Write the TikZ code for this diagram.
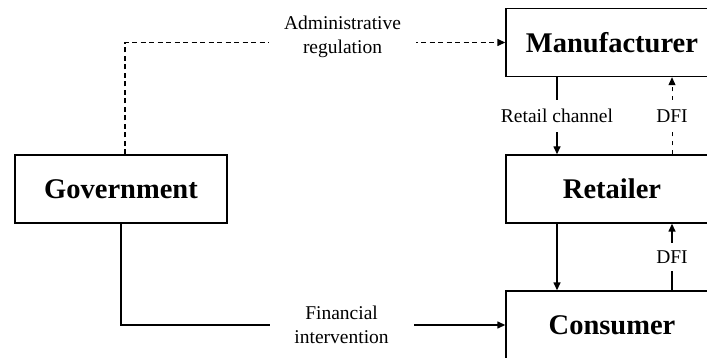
\documentclass[tikz,border=0pt]{standalone}
\usepackage{fontspec}
\setmainfont{Liberation Serif}
\usetikzlibrary{arrows.meta,positioning}
\tikzset{
  agent/.style={draw=black,line width=1.4pt,minimum width=212pt,minimum height=68pt,inner sep=0pt,font=\fontsize{28.5}{30}\selectfont\bfseries},
  lbl/.style={fill=white,align=center,inner xsep=2pt,inner ysep=9pt,font=\fontsize{19.5}{24}\selectfont},
  flow/.style={-{Triangle[length=8pt,width=7pt]},draw=black,line width=1.4pt},
  reg/.style={flow,dash pattern=on 5pt off 3.5pt},
  info/.style={flow,line width=1pt,dash pattern=on 4pt off 5pt}
}

\begin{document}
\begin{tikzpicture}[x=1pt,y=-1pt]
  \useasboundingbox (0,0) rectangle (707,358);
  \clip (0,0) rectangle (707,358);
  % agents
  \node[agent] (gov) at (121,189) {Government};
  \node[agent] (manu) at (612,42.5) {Manufacturer};
  \node[agent] (ret) at (612,189) {Retailer};
  \node[agent] (cons) at (612,325) {Consumer};
  % government policies
  \draw[reg] ([xshift=4pt]gov.north) |- node[lbl,pos=0.786,yshift=6pt,minimum width=147pt,inner ysep=0pt] {Administrative\\regulation} (manu.west);
  \draw[flow] (gov.south) |- node[lbl,pos=0.787,minimum width=144pt,inner ysep=0pt] {Financial\\intervention} (cons.west);
  % supply chain
  \draw[flow] ([xshift=-55pt]manu.south) -- node[lbl] {Retail channel} ([xshift=-55pt]ret.north);
  \draw[flow] ([xshift=-55pt]ret.south) -- ([xshift=-55pt]cons.north);
  \draw[info] ([xshift=60pt]ret.north) -- node[lbl] {DFI} ([xshift=60pt]manu.south);
  \draw[flow] ([xshift=60pt]cons.north) -- node[lbl,inner ysep=8pt] {DFI} ([xshift=60pt]ret.south);
\end{tikzpicture}
\end{document}
